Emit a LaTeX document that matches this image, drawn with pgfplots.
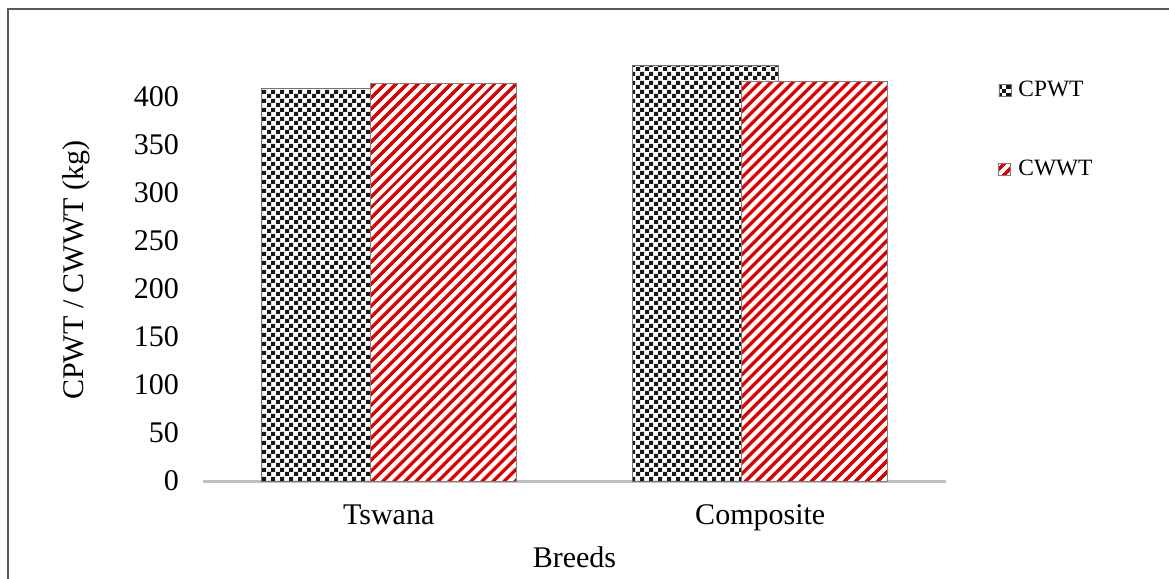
\documentclass[border=0pt]{standalone}
\usepackage{pgfplots}
\pgfplotsset{compat=1.18}
\usepackage{fontspec}
\setmainfont{Liberation Serif}
\usetikzlibrary{patterns.meta}

% fine checkerboard for CPWT
\tikzdeclarepattern{
  name=finechecks,
  type=uncolored,
  bounding box={(0pt,0pt) and (4.3pt,4.3pt)},
  tile size={(4.3pt,4.3pt)},
  code={
    \fill (0pt,0pt) rectangle (2.15pt,2.15pt);
    \fill (2.15pt,2.15pt) rectangle (4.3pt,4.3pt);
  }
}
% diagonal stripes for CWWT
\tikzdeclarepattern{
  name=diagstripes,
  type=uncolored,
  bounding box={(0pt,0pt) and (4.25pt,4.25pt)},
  tile size={(4.25pt,4.25pt)},
  tile transformation={rotate=45},
  code={
    \fill (-0.5pt,0pt) rectangle (4.75pt,2.1pt);
  }
}

\definecolor{stripered}{RGB}{222,0,0}
\definecolor{baseline}{RGB}{191,191,191}
\definecolor{frame}{RGB}{90,90,90}

\begin{document}
\begin{tikzpicture}
\path[use as bounding box] (-101.5pt,-49pt) rectangle (483pt,240.5pt);
\begin{axis}[
  scale only axis,
  width=371.5pt, height=216pt,
  at={(0pt,0pt)}, anchor=south west,
  ybar,
  bar width=0.393,
  xmin=-0.5, xmax=1.5,
  ymin=0, ymax=450,
  xtick={0,1},
  xticklabels={Tswana,Composite},
  ytick={0,50,...,400},
  major tick length=0pt,
  axis lines*=left,
  y axis line style={draw=none},
  x axis line style={draw=baseline, line width=1.5pt},
  tick label style={font=\fontsize{15}{18}\selectfont},
  /pgf/number format/assume math mode=true,
  yticklabel style={xshift=-8.5pt},
  xticklabel style={anchor=base, yshift=-21.5pt},
  xlabel={Breeds},
  ylabel={CPWT / CWWT (kg)},
  label style={font=\fontsize{15}{18}\selectfont},
  xlabel style={at={(axis description cs:0.5,0)}, anchor=base, yshift=-43pt},
  ylabel style={at={(axis description cs:-0.171,0.488)}, anchor=center, rotate=0},
  legend style={
    draw=none, fill=none, inner sep=0pt,
    at={(axis description cs:1.07,0.935)}, anchor=north west,
    font=\fontsize{11.7}{14}\selectfont,
    row sep=26pt,
    legend cell align=left,
    /tikz/every odd column/.append style={column sep=1.5pt},
  },
  legend image code/.code={
    \path[#1, draw=none] (0pt,-3pt) rectangle (6pt,3pt);
  },
]
\addplot[bar shift=-0.1467, draw=black!55, line width=0.4pt, fill=white,
         postaction={pattern={finechecks}, pattern color=black!90}]
  coordinates {(0,409) (1,432.5)};
\addplot[bar shift=0.1467, draw=black!50, line width=0.5pt, fill=white,
         postaction={pattern={diagstripes}, pattern color=stripered}]
  coordinates {(0,414) (1,416)};
\legend{CPWT,CWWT}
\end{axis}
% outer frame (top and left edges)
\draw[frame, line width=1pt] (-97.5pt,-49pt) -- (-97.5pt,236pt) -- (483pt,236pt);
\end{tikzpicture}
\end{document}
